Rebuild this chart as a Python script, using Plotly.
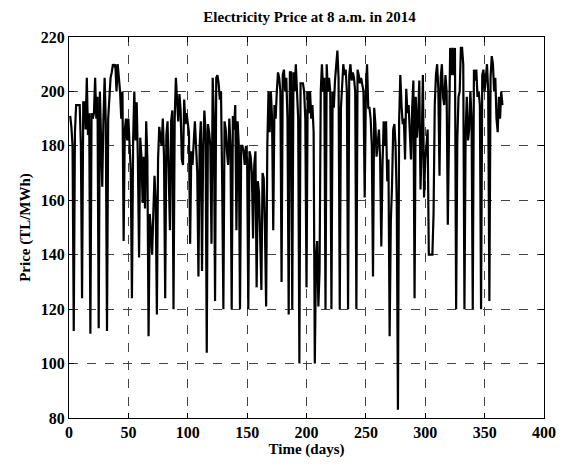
import plotly.graph_objects as go

# Day-ahead electricity price at 08:00 for each day of 2014 (TL/MWh)
days = list(range(1, 366))

price = [
    191, 187, 180, 112, 185, 195, 195, 195, 195, 180,
    124, 196, 196, 186, 205, 184, 192, 111, 192, 190,
    192, 205, 190, 198, 113, 200, 178, 165, 190, 205,
    188, 112, 190, 200, 205, 207, 210, 209, 210, 200,
    210, 205, 200, 190, 200, 145, 186, 190, 182, 190,
    180, 171, 124, 182, 200, 182, 196, 175, 139, 183,
    176, 159, 176, 157, 189, 175, 110, 155, 149, 140,
    155, 169, 160, 118, 175, 187, 183, 180, 190, 176,
    124, 184, 189, 170, 149, 189, 193, 120, 190, 205,
    195, 189, 199, 193, 175, 173, 197, 188, 192, 189,
    185, 144, 178, 173, 180, 189, 180, 170, 132, 180,
    189, 134, 180, 193, 185, 104, 188, 185, 180, 144,
    205, 190, 123, 205, 206, 203, 197, 200, 166, 120,
    189, 186, 178, 173, 190, 180, 120, 191, 186, 195,
    149, 189, 180, 120, 180, 180, 178, 173, 180, 175,
    120, 178, 176, 170, 146, 173, 178, 128, 167, 163,
    146, 127, 170, 168, 150, 121, 180, 200, 185, 200,
    190, 149, 195, 190, 200, 207, 205, 200, 130, 206,
    208, 200, 205, 190, 118, 207, 207, 120, 207, 200,
    210, 198, 190, 100, 203, 203, 203, 200, 190, 128,
    200, 192, 200, 190, 195, 185, 100, 139, 145, 121,
    134, 200, 210, 200, 205, 120, 210, 200, 205, 200,
    120, 200, 194, 204, 210, 215, 205, 120, 194, 205,
    210, 206, 208, 200, 120, 206, 210, 204, 207, 205,
    200, 120, 208, 206, 203, 205, 203, 200, 161, 200,
    210, 194, 194, 190, 180, 132, 194, 188, 176, 180,
    186, 175, 143, 173, 189, 180, 189, 167, 175, 110,
    152, 165, 186, 188, 180, 160, 83, 189, 206, 195,
    188, 190, 175, 201, 192, 195, 186, 175, 194, 204,
    124, 198, 183, 190, 204, 164, 180, 206, 161, 175,
    180, 186, 140, 140, 140, 140, 155, 195, 206, 210,
    201, 169, 205, 210, 198, 195, 206, 200, 151, 195,
    216, 206, 216, 206, 216, 120, 182, 198, 200, 216,
    216, 210, 120, 185, 198, 182, 186, 200, 190, 120,
    208, 204, 208, 198, 200, 195, 120, 206, 208, 200,
    205, 210, 200, 123, 205, 213, 210, 200, 205, 190,
    185, 198, 190, 200, 195,
]

x_ticks = [0, 50, 100, 150, 200, 250, 300, 350, 400]
y_ticks = [80, 100, 120, 140, 160, 180, 200, 220]

FONT = "Liberation Serif"

fig = go.Figure(
    go.Scatter(
        x=days,
        y=price,
        mode="lines",
        line=dict(color="black", width=2.2),
        hoverinfo="skip",
    )
)

axis_common = dict(
    showline=True,
    linecolor="black",
    linewidth=1,
    mirror="ticks",
    ticks="inside",
    ticklen=5,
    tickcolor="black",
    showgrid=True,
    gridcolor="#444444",
    gridwidth=1,
    griddash="dash",
    zeroline=False,
    tickfont=dict(family=FONT, size=16, color="black", weight="bold"),
)

fig.update_layout(
    width=568,
    height=466,
    margin=dict(l=69, r=17, t=37, b=48),
    paper_bgcolor="white",
    plot_bgcolor="white",
    showlegend=False,
    title=dict(
        text="Electricity Price at 8 a.m. in 2014",
        x=0.545,
        xanchor="center",
        y=0.975,
        yanchor="top",
        font=dict(family=FONT, size=15, color="black", weight="bold"),
    ),
    xaxis=dict(
        range=[0, 400],
        tickvals=x_ticks,
        title=dict(
            text="Time (days)",
            font=dict(family=FONT, size=15, color="black", weight="bold"),
            standoff=2,
        ),
        **axis_common,
    ),
    yaxis=dict(
        range=[80, 220],
        tickvals=y_ticks,
        title=dict(
            text="Price (TL/MWh)",
            font=dict(family=FONT, size=15, color="black", weight="bold"),
            standoff=6,
        ),
        **axis_common,
    ),
)

fig.write_html("out.html")
